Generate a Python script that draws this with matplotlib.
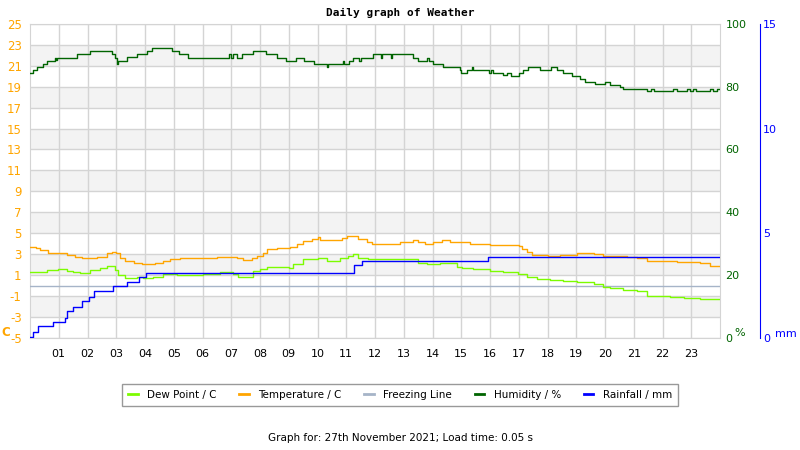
import numpy as np
import matplotlib
matplotlib.use("Agg")
import matplotlib.pyplot as plt
from matplotlib.lines import Line2D

plt.rcParams["axes.unicode_minus"] = False

# hour of day -> value, drawn as steps
temp_hours = [0, 0.21, 0.35, 0.64, 1.28, 1.57, 1.8, 2.03, 2.32, 2.67, 2.84, 2.99, 3.13, 3.3,
              3.6, 3.88, 4.35, 4.64, 4.87, 5.22, 6.49, 7.19, 7.42, 7.71, 7.89, 8.12, 8.23,
              8.58, 9.04, 9.28, 9.51, 9.8, 10.03, 10.09, 10.84, 11.01, 11.42, 11.71, 11.88,
              12.87, 13.33, 13.5, 13.74, 14.03, 14.32, 14.61, 15.3, 16.0, 17.0, 17.1, 17.28,
              17.45, 18.03, 18.43, 19.01, 19.6, 19.94, 20.75, 21.1, 21.45, 22.49, 23.31,
              23.65, 24.0]
temp_vals = [3.72, 3.56, 3.4, 3.08, 2.92, 2.76, 2.66, 2.6, 2.76, 3.08, 3.24, 3.08, 2.6, 2.34,
             2.18, 2.02, 2.2, 2.34, 2.5, 2.6, 2.76, 2.6, 2.43, 2.6, 2.85, 3.08, 3.47,
             3.57, 3.72, 3.95, 4.3, 4.46, 4.62, 4.36, 4.58, 4.71, 4.46, 4.2, 4.01,
             4.2, 4.39, 4.2, 3.95, 4.2, 4.36, 4.13, 3.95, 3.88, 3.78, 3.46, 3.17,
             2.92, 2.83, 2.92, 3.08, 2.99, 2.86, 2.73, 2.64, 2.38, 2.28, 2.13,
             1.9, 1.9]

dew_hours = [0, 0.58, 0.99, 1.28, 1.5, 1.74, 2.09, 2.43, 2.67, 2.84, 2.96, 3.07, 3.3, 3.71,
             3.94, 4.29, 4.64, 5.1, 6.03, 6.61, 7.07, 7.25, 7.77, 8.0, 8.23, 9.0, 9.16,
             9.51, 10.03, 10.32, 10.78, 11.07, 11.25, 11.42, 11.77, 13.51, 13.8, 14.26,
             14.84, 15.01, 15.42, 16.0, 16.46, 16.99, 17.28, 17.63, 18.09, 18.55, 19.01,
             19.6, 19.94, 20.17, 20.64, 21.1, 21.45, 22.26, 22.75, 23.31, 23.65, 24.0]
dew_vals = [1.33, 1.49, 1.59, 1.4, 1.33, 1.17, 1.49, 1.72, 1.88, 1.91, 1.49, 1.01, 0.76, 0.85,
            0.69, 0.85, 1.08, 1.01, 1.08, 1.33, 1.08, 0.85, 1.4, 1.59, 1.81, 1.72, 2.04,
            2.52, 2.61, 2.39, 2.61, 2.87, 2.99, 2.68, 2.52, 2.14, 2.04, 2.14,
            1.81, 1.66, 1.56, 1.43, 1.28, 1.11, 0.86, 0.67, 0.54, 0.45, 0.32,
            0.13, -0.1, -0.25, -0.41, -0.5, -0.99, -1.05, -1.15, -1.27, -1.3, -1.3]

hum_hours = [0, 0.12, 0.25, 0.44, 0.6, 0.87, 0.9, 0.95, 1.65, 2.1, 2.86, 2.95, 3.02, 3.07,
             3.38, 3.73, 4.06, 4.26, 4.93, 5.17, 5.51, 6.93, 7.0, 7.05, 7.2, 7.38, 7.77,
             8.21, 8.58, 8.9, 9.24, 9.54, 9.88, 10.32, 10.36, 10.88, 10.92, 11.11, 11.25,
             11.45, 11.5, 11.94, 12.2, 12.24, 12.55, 12.6, 13.31, 13.51, 13.8, 13.89,
             14.03, 14.35, 14.96, 14.99, 15.19, 15.37, 15.41, 15.98, 16.02, 16.1, 16.46,
             16.58, 16.73, 17.02, 17.16, 17.33, 17.74, 18.13, 18.32, 18.55, 18.84, 19.13,
             19.3, 19.65, 20.0, 20.17, 20.52, 20.64, 21.45, 21.6, 21.7, 22.38, 22.49,
             22.84, 22.96, 23.07, 23.15, 23.65, 23.77, 23.9, 24.0]
hum_vals = [84.3, 85.2, 86.2, 87.2, 88.1, 89.1, 88.4, 89.1, 90.3, 91.3, 90.3, 89.1, 87.2, 88.1,
            89.4, 90.3, 91.3, 92.3, 91.3, 90.3, 89.1, 90.3, 89.1, 90.3, 89.1, 90.3, 91.3,
            90.3, 89.1, 88.1, 89.1, 88.1, 87.2, 86.2, 87.2, 88.1, 87.2, 88.1, 89.1,
            88.1, 89.1, 90.3, 89.1, 90.3, 89.1, 90.3, 89.1, 88.1, 89.1, 88.1,
            87.2, 86.2, 85.2, 84.3, 85.2, 86.2, 85.2, 84.3, 85.2, 84.3, 83.6,
            84.3, 83.4, 84.3, 85.2, 86.2, 85.4, 86.2, 85.2, 84.3, 83.4, 82.3,
            81.4, 80.8, 81.4, 80.6, 80.0, 79.2, 78.5, 79.2, 78.5, 79.2, 78.5,
            79.2, 78.5, 79.2, 78.5, 79.2, 78.5, 79.2, 79.2]

rain_hours = [0, 0.09, 0.29, 0.79, 1.22, 1.28, 1.51, 1.8, 2.06, 2.24, 2.9, 3.36, 3.8, 4.03,
              11.28, 11.54, 15.94, 24.0]
rain_vals = [0.03, 0.27, 0.57, 0.75, 0.96, 1.28, 1.48, 1.75, 1.97, 2.23, 2.47, 2.66, 2.93, 3.12,
             3.47, 3.68, 3.86, 3.86]

hour_labels = ["%02d" % h for h in range(1, 24)]

ORANGE = "#ffa500"
GREEN = "#006400"
DEW = "#7cfc00"
FREEZE = "#a6b4c8"
BLUE = "#0000ff"
GRID = "#d4d4d4"

fig = plt.figure(figsize=(8, 4.5), dpi=100)
ax = fig.add_axes([0.0375, 0.249, 0.8625, 0.698])
ax.set_xlim(0, 24)
ax.set_ylim(-5, 25)

# alternating bands
for lo in range(-3, 25, 4):
    ax.axhspan(lo, lo + 2, color="#f3f3f3", zorder=0, lw=0)
ax.set_yticks(range(-5, 26, 2))
ax.set_xticks(range(1, 24))
ax.set_xticklabels(hour_labels, fontsize=8)
ax.grid(True, color=GRID, lw=1, zorder=1)
ax.set_axisbelow(True)
for s in ax.spines.values():
    s.set_color(GRID)
ax.tick_params(axis="y", length=0, pad=6, labelcolor=ORANGE, labelsize=8.5)
ax.tick_params(axis="x", length=0, pad=8)

ax.axhline(0, color=FREEZE, lw=1, zorder=3)
ax.step(temp_hours, temp_vals, where="post", color=ORANGE, lw=1, zorder=4)
ax.step(dew_hours, dew_vals, where="post", color=DEW, lw=1, zorder=4)

axh = ax.twinx()
axh.set_ylim(0, 100)
axh.set_yticks(range(0, 101, 20))
axh.tick_params(axis="y", length=0, pad=4, labelcolor=GREEN, labelsize=8)
for s in axh.spines.values():
    s.set_visible(False)
axh.step(hum_hours, hum_vals, where="post", color=GREEN, lw=1, zorder=4)

axr = ax.twinx()
axr.set_ylim(0, 15)
axr.set_yticks([0, 5, 10, 15])
axr.spines["right"].set_position(("axes", 1 + 40 / 690))
for name, s in axr.spines.items():
    s.set_visible(name == "right")
axr.spines["right"].set_color(BLUE)
axr.tick_params(axis="y", length=0, pad=2, labelcolor=BLUE, labelsize=8)
axr.step(rain_hours, rain_vals, where="post", color=BLUE, lw=1, zorder=5)

fig.text(1 / 800, 1 - 332 / 450, "C", color=ORANGE, fontsize=8.5, fontweight="bold", va="center")
fig.text(734 / 800, 1 - 333 / 450, "%", color=GREEN, fontsize=8, va="center")
fig.text(775 / 800, 1 - 334 / 450, "mm", color=BLUE, fontsize=8, va="center")

fig.text(0.5, 1 - 13 / 450, "Daily graph of Weather", ha="center", va="center",
         family="DejaVu Sans Mono", fontweight="bold", fontsize=8)

handles = [Line2D([], [], color=DEW, lw=2), Line2D([], [], color=ORANGE, lw=2),
           Line2D([], [], color=FREEZE, lw=2), Line2D([], [], color=GREEN, lw=2),
           Line2D([], [], color=BLUE, lw=2)]
labels = ["Dew Point / C", "Temperature / C", "Freezing Line", "Humidity / %", "Rainfall / mm"]
leg = fig.legend(handles, labels, loc="center", bbox_to_anchor=(0.5, 1 - 395 / 450), ncol=5,
                 fontsize=7.5, frameon=True, fancybox=False, edgecolor="#808080",
                 handlelength=0.9, handletextpad=0.9, columnspacing=2.2, borderpad=0.6)
leg.get_frame().set_linewidth(1)

fig.text(0.5, 1 - 438 / 450, "Graph for: 27th November 2021; Load time: 0.05 s",
         ha="center", va="center", fontsize=7.5)

fig.savefig("out.png", dpi=100)
